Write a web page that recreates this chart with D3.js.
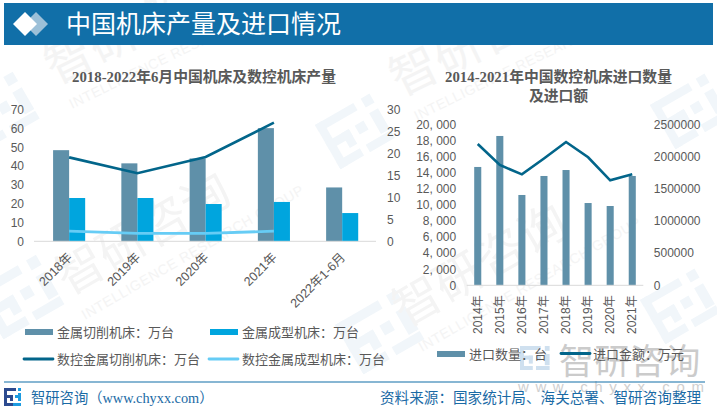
<!DOCTYPE html>
<html>
<head>
<meta charset="utf-8">
<style>
html,body{margin:0;padding:0;background:#fff;}
svg{display:block;}
text{font-family:"Liberation Sans","Noto Sans CJK SC",sans-serif;}
.serif{font-family:"Liberation Serif","Noto Sans CJK SC",serif;}
.axis text{fill:#595959;font-size:12px;}
.axis path,.axis line{stroke:none;}
</style>
</head>
<body>
<div id="chart"></div>
<script src="https://cdn.jsdelivr.net/npm/d3@7/dist/d3.min.js"></script>
<script>
const pageTitle = "中国机床产量及进口情况";
const title1 = "2018-2022年6月中国机床及数控机床产量";
const title2Lines = ["2014-2021年中国数控机床进口数量", "及进口额"];

const categories1 = ["2018年", "2019年", "2020年", "2021年", "2022年1-6月"];
const cuttingTools = [48.4, 41.4, 44, 60.1, 28.6];
const formingTools = [23, 23, 19.8, 20.9, 15];
const cncCutting = [19.1, 15.5, 19.2, 27];
const cncForming = [2.3, 1.8, 1.8, 2.3];
const legend1Names = ["金属切削机床：万台", "金属成型机床：万台", "数控金属切削机床：万台", "数控金属成型机床：万台"];

const categories2 = ["2014年", "2015年", "2016年", "2017年", "2018年", "2019年", "2020年", "2021年"];
const importQty = [14700, 18550, 11220, 13580, 14320, 10220, 9850, 13580];
const importValue = [2194000, 1868000, 1723000, 1970000, 2225000, 1988000, 1630000, 1723000];
const legend2Names = ["进口数量：台", "进口金额：万元"];

const footerBrand = "智研咨询（www.chyxx.com）";
const footerSource = "资料来源：国家统计局、海关总署、智研咨询整理";

const C = {header:"#116fa8", bar:"#5f90a9", bright:"#00a5de", dark:"#02658a", light:"#66ccf5",
  axis:"#d9d9d9", title:"#595959", legend:"#595959", foot:"#1a6aa5", wm:"#f4f4f4", wmBlue:"#f1f6fa"};

const W = 717, H = 413;
const svg = d3.select("#chart").append("svg").attr("width", W).attr("height", H);
svg.append("rect").attr("width", W).attr("height", H).attr("fill", "#fff");

/* ---------- background watermarks ---------- */
function logoMark(g, x, y, s, angle, fill) {
  const m = g.append("g").attr("transform", `translate(${x},${y}) rotate(${angle}) scale(${s})`).attr("fill", fill);
  [[0,0,26,5],[0,0,5,30],[0,12,16,5],[11,12,5,10],[0,25,16,5],
   [20,12,6,6],[31,0,6,6],[31,10,6,14],[20,25,17,5]].forEach(r =>
    m.append("rect").attr("x", r[0]).attr("y", r[1]).attr("width", r[2]).attr("height", r[3]));
}
const wm = svg.append("g");
[[-45,105,1.8,-30],[-25,290,1.9,-30],[335,325,1.9,-30],[315,125,1.7,-30],[650,105,1.7,-30],[640,300,1.7,-30]]
  .forEach(d => logoMark(wm, d[0], d[1], d[2], d[3], C.wmBlue));
[[55,85,-26,"智研咨","INTELLIGENCE RESEARCH"],[400,97,-26,"智研咨","INTELLIGENCE RESEARCH"],
 [68,296,-30,"智研咨询","INTELLIGENCE RESEARCH GROUP"],[405,328,-30,"智研咨询","INTELLIGENCE RESEARCH GROUP"]].forEach(d => {
  wm.append("text").attr("transform", `translate(${d[0]},${d[1]}) rotate(${d[2]})`)
    .attr("font-size", 48).attr("fill", C.wm).text(d[3]);
  wm.append("text").attr("transform", `translate(${d[0]+17},${d[1]+24}) rotate(${d[2]})`)
    .attr("font-size", 14).attr("letter-spacing", 0.6).attr("fill", C.wm).text(d[4]);
});
/* bottom-right solid watermark */
logoMark(svg, 520, 346, 0.8, 0, "#cfe0ef");
svg.append("text").attr("x", 559).attr("y", 374).attr("font-size", 35).attr("letter-spacing", 0.4)
  .attr("fill", "#cbcbcb").text("智研咨询");
svg.append("text").attr("x", 518).attr("y", 392).attr("font-size", 15).attr("letter-spacing", 6.6)
  .attr("fill", "#cfcfcf").text("www.chyxx.com");

/* ---------- header ---------- */
svg.append("rect").attr("x", 4).attr("y", 3).attr("width", 709).attr("height", 42).attr("fill", C.header);
const diamond = (cx, cy, r) => `M${cx-r},${cy}L${cx},${cy-r}L${cx+r},${cy}L${cx},${cy+r}Z`;
svg.append("path").attr("d", diamond(36, 24, 12)).attr("fill", "#9cc0d8");
svg.append("path").attr("d", diamond(25, 24, 12)).attr("fill", "#fff");
svg.append("text").attr("x", 66).attr("y", 33).attr("font-size", 25).attr("fill", "#fff").text(pageTitle);

/* ---------- chart 1 ---------- */
const y1L = d3.scaleLinear().domain([0, 70]).range([241.3, 109.5]);
const y1R = d3.scaleLinear().domain([0, 30]).range([241.3, 109.5]);
const x1 = d3.scaleBand().domain(categories1).range([35, 376.3]).paddingInner(0.53).paddingOuter(0.265);
const x1Inner = d3.scaleBand().domain([0, 1]).range([0, x1.bandwidth()]);

svg.append("text").attr("class", "serif").attr("x", 204).attr("y", 82).attr("text-anchor", "middle")
  .attr("font-size", 14.8).attr("font-weight", 700).attr("fill", C.title).text(title1);

const g1 = svg.append("g");
g1.selectAll(".b1").data(cuttingTools).join("rect").attr("class", "b1")
  .attr("x", (d, i) => x1(categories1[i]) + x1Inner(0)).attr("width", x1Inner.bandwidth())
  .attr("y", d => y1L(d)).attr("height", d => y1L(0) - y1L(d)).attr("fill", C.bar);
g1.selectAll(".b2").data(formingTools).join("rect").attr("class", "b2")
  .attr("x", (d, i) => x1(categories1[i]) + x1Inner(1)).attr("width", x1Inner.bandwidth())
  .attr("y", d => y1L(d)).attr("height", d => y1L(0) - y1L(d)).attr("fill", C.bright);
g1.append("line").attr("x1", 34).attr("x2", 376).attr("y1", y1L(0)).attr("y2", y1L(0)).attr("stroke", C.axis);

const line1 = d3.line().x((d, i) => x1(categories1[i]) + x1.bandwidth() / 2).y(d => y1R(d));
g1.append("path").attr("d", line1(cncCutting)).attr("fill", "none").attr("stroke", C.dark).attr("stroke-width", 2.6);
g1.append("path").attr("d", line1(cncForming)).attr("fill", "none").attr("stroke", C.light).attr("stroke-width", 2.8);

svg.append("g").attr("class", "axis").attr("transform", "translate(34,0)")
  .call(d3.axisLeft(y1L).tickValues(d3.range(0, 71, 10)).tickSize(0).tickPadding(10));
svg.append("g").attr("class", "axis").attr("transform", "translate(376,0)")
  .call(d3.axisRight(y1R).tickValues(d3.range(0, 31, 5)).tickSize(0).tickPadding(11));
const xa1 = svg.append("g").attr("class", "axis").attr("transform", `translate(0,${y1L(0)})`)
  .call(d3.axisBottom(x1).tickSize(0));
xa1.selectAll("text").attr("text-anchor", "end").attr("dy", 0).attr("y", 0)
  .style("font-size", "12.6px")
  .attr("transform", "translate(1,14) rotate(-45)").attr("dominant-baseline", "central");

/* legend 1 */
const lg1 = svg.append("g").attr("font-size", 13).attr("fill", C.legend);
const legendPos = [[25,57],[210,242]];
[[0,C.bar],[1,C.bright]].forEach(d => {
  lg1.append("rect").attr("x", legendPos[d[0]][0]).attr("y", 329).attr("width", 28).attr("height", 6).attr("fill", d[1]);
  lg1.append("text").attr("x", legendPos[d[0]][1]).attr("y", 337).text(legend1Names[d[0]]);
});
[[0,C.dark],[1,C.light]].forEach(d => {
  lg1.append("line").attr("x1", legendPos[d[0]][0]-1).attr("x2", legendPos[d[0]][0]+28).attr("y1", 359).attr("y2", 359)
    .attr("stroke", d[1]).attr("stroke-width", 2.8).attr("stroke-linecap", "round");
  lg1.append("text").attr("x", legendPos[d[0]][1]).attr("y", 364).text(legend1Names[d[0]+2]);
});

/* ---------- chart 2 ---------- */
const y2L = d3.scaleLinear().domain([0, 20000]).range([285.3, 124.3]);
const y2R = d3.scaleLinear().domain([0, 2500000]).range([285.3, 124.3]);
const x2 = d3.scaleBand().domain(categories2).range([466.7, 643.3]).paddingInner(0.68).paddingOuter(0.34);

svg.selectAll(".t2").data(title2Lines).join("text").attr("class", "t2 serif")
  .attr("x", 558.5).attr("y", (d, i) => 82 + i * 19).attr("text-anchor", "middle")
  .attr("font-size", 14.8).attr("font-weight", 700).attr("fill", C.title).text(d => d);

const g2 = svg.append("g");
g2.selectAll(".q").data(importQty).join("rect").attr("class", "q")
  .attr("x", (d, i) => x2(categories2[i])).attr("width", x2.bandwidth())
  .attr("y", d => y2L(d)).attr("height", d => y2L(0) - y2L(d)).attr("fill", C.bar);
g2.append("line").attr("x1", 466.7).attr("x2", 643.3).attr("y1", y2L(0)).attr("y2", y2L(0)).attr("stroke", C.axis);
const line2 = d3.line().x((d, i) => x2(categories2[i]) + x2.bandwidth() / 2).y(d => y2R(d));
g2.append("path").attr("d", line2(importValue)).attr("fill", "none").attr("stroke", C.dark).attr("stroke-width", 2.6);

svg.append("g").attr("class", "axis").attr("transform", "translate(466.7,0)")
  .call(d3.axisLeft(y2L).tickValues(d3.range(0, 20001, 2000)).tickSize(0).tickPadding(10.5)
    .tickFormat(d => d3.format(",")(d).replace(",", ", ")));
svg.append("g").attr("class", "axis").attr("transform", "translate(643.3,0)")
  .call(d3.axisRight(y2R).tickValues(d3.range(0, 2500001, 500000)).tickSize(0).tickPadding(10.5)
    .tickFormat(d3.format("d")));
const xa2 = svg.append("g").attr("class", "axis").attr("transform", `translate(0,${y2L(0)})`)
  .call(d3.axisBottom(x2).tickSize(0));
xa2.selectAll("text").attr("text-anchor", "end").attr("dy", 0).attr("y", 0)
  .attr("transform", "translate(0,10) rotate(-90)").attr("dominant-baseline", "central");

/* legend 2 */
const lg2 = svg.append("g").attr("font-size", 13).attr("fill", C.legend);
lg2.append("rect").attr("x", 437).attr("y", 351).attr("width", 28).attr("height", 6).attr("fill", C.bar);
lg2.append("text").attr("x", 469).attr("y", 359).text(legend2Names[0]);
lg2.append("line").attr("x1", 561).attr("x2", 590).attr("y1", 353.5).attr("y2", 353.5)
  .attr("stroke", C.dark).attr("stroke-width", 2.8).attr("stroke-linecap", "round");
lg2.append("text").attr("x", 593).attr("y", 359).text(legend2Names[1]);

/* ---------- footer ---------- */
svg.append("line").attr("x1", 4).attr("x2", 705).attr("y1", 382).attr("y2", 382).attr("stroke", "#116fa8").attr("stroke-width", 1.2);
const fl = svg.append("g").attr("transform", "translate(4,388)");
[[0,0,12,3,"#2c4a8f"],[0,0,3,18,"#2c4a8f"],[0,7,9,3,"#2c4a8f"],[6,7,3,6,"#2c4a8f"],
 [0,15,9,3,"#2c4a8f"],[11,7,3,3,"#1c9be0"],[14,0,3,3,"#1c9be0"],[14,5,3,8,"#1c9be0"],[9,15,8,3,"#1c9be0"]]
 .forEach(r => fl.append("rect").attr("x", r[0]).attr("y", r[1]).attr("width", r[2]).attr("height", r[3]).attr("fill", r[4]));
svg.append("text").attr("x", 31).attr("y", 403).attr("font-size", 14.3).attr("fill", C.foot)
  .attr("class", "serif").text(footerBrand);
svg.append("text").attr("x", 380).attr("y", 403).attr("font-size", 14.6).attr("fill", C.foot).text(footerSource);
</script>
</body>
</html>
